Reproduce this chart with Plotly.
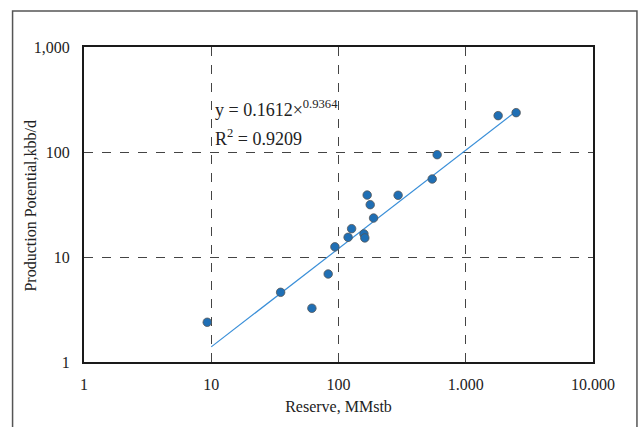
import plotly.graph_objects as go

# Data
reserve = [9.3, 35.1, 61.8, 83, 93.7, 119, 126.8, 158.5, 161, 168, 177.5, 188.6, 294, 545, 596, 1797, 2489]
production = [2.39, 4.61, 3.25, 6.89, 12.5, 15.4, 18.6, 16.6, 15.2, 38.9, 31.5, 23.5, 38.7, 55.3, 94.3, 222, 237]

# Power trendline as stated on the chart
coef_a = 0.1612
coef_b = 0.9364
trend_x = [10, 2489]
trend_y = [coef_a * v ** coef_b for v in trend_x]

x_tickvals = [1, 10, 100, 1000, 10000]
x_ticktext = ["1", "10", "100", "1.000", "10.000"]
y_tickvals = [1, 10, 100, 1000]
y_ticktext = ["1", "10", "100", "1,000"]

FONT = "Liberation Serif, Times New Roman, serif"

fig = go.Figure()
fig.add_trace(go.Scatter(
    x=trend_x, y=trend_y, mode="lines",
    line=dict(color="#3a8fd8", width=1.2), showlegend=False, hoverinfo="skip"))
fig.add_trace(go.Scatter(
    x=reserve, y=production, mode="markers",
    marker=dict(size=8.5, color="#1f6fb5", line=dict(color="#555555", width=0.8)),
    showlegend=False))

fig.add_annotation(x=1.01, y=2.412, xref="x", yref="y",
                   text="y = 0.1612×<sup>0.9364</sup>", showarrow=False,
                   xanchor="left", yanchor="middle",
                   font=dict(family=FONT, size=18, color="#222222"))
fig.add_annotation(x=1.01, y=2.137, xref="x", yref="y",
                   text="R<sup>2</sup> = 0.9209", showarrow=False,
                   xanchor="left", yanchor="middle",
                   font=dict(family=FONT, size=18, color="#222222"))

W = 509.5
H = 316.0
# Y-axis title placed as a rotated annotation
fig.add_annotation(x=(30 - 84) / W, y=(362 - 205) / H, xref="paper", yref="paper",
                   text="Production Potential,kbb/d", showarrow=False, textangle=-90,
                   xanchor="center", yanchor="middle",
                   font=dict(family=FONT, size=16, color="#222222"))

# Outer frame
fig.add_shape(type="rect", xref="paper", yref="paper",
              x0=(12.5 - 84) / W, x1=(637.5 - 84) / W,
              y0=(362 - 440) / H, y1=(362 - 10) / H,
              line=dict(color="#555555", width=1.5), layer="below")

axis_common = dict(
    type="log", showline=True, linecolor="#1a1a1a", linewidth=2, mirror=True,
    showgrid=True, gridcolor="#444444", griddash="dash", gridwidth=1,
    zeroline=False, ticks="", tickfont=dict(family=FONT, size=16, color="#222222"),
)

fig.update_xaxes(**axis_common, range=[0, 4], tickvals=x_tickvals, ticktext=x_ticktext,
                 ticklabelstandoff=7,
                 title=dict(text="Reserve, MMstb", font=dict(family=FONT, size=16, color="#222222"),
                            standoff=9))
fig.update_yaxes(**axis_common, range=[0, 3], tickvals=y_tickvals, ticktext=y_ticktext,
                 ticklabelstandoff=9)

fig.update_layout(
    width=643, height=427,
    margin=dict(l=84, r=49.5, t=46.5, b=64.5, autoexpand=False),
    plot_bgcolor="white", paper_bgcolor="white",
)

fig.write_html("out.html")
